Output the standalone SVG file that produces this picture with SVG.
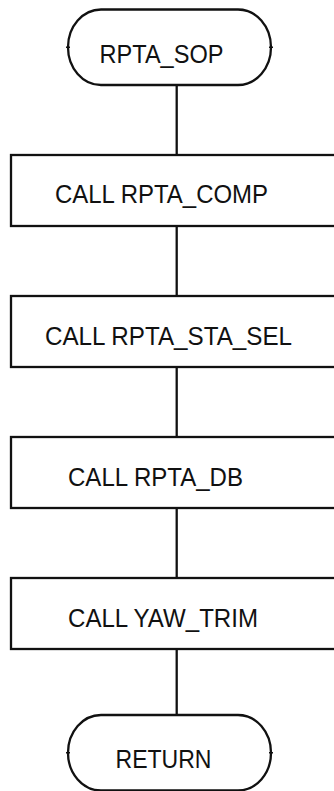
<svg xmlns="http://www.w3.org/2000/svg" width="334" height="791" viewBox="0 0 334 791">
<style>
.shape{fill:#fff;stroke:#111;stroke-width:2.3}
.tick{stroke:#111;stroke-width:1.5}
.conn{stroke:#111;stroke-width:2.3;fill:none}
.lbl{font-family:"Liberation Sans",Arial,sans-serif;font-size:25px;fill:#111}
</style>
<rect width="334" height="791" fill="#fff"/>
<g id="connectors">
<line class="conn" x1="176.7" y1="85" x2="176.7" y2="155"/>
<line class="conn" x1="176.7" y1="226" x2="176.7" y2="296"/>
<line class="conn" x1="176.7" y1="367" x2="176.7" y2="437"/>
<line class="conn" x1="176.7" y1="508" x2="176.7" y2="578"/>
<line class="conn" x1="176.7" y1="649" x2="176.7" y2="715"/>
</g>
<g id="start">
<path class="shape" d="M101,9.5 H238 A33,37.75 0 0 1 271,47.25 A33,37.75 0 0 1 238,85 H101 A33,37.75 0 0 1 68,47.25 A33,37.75 0 0 1 101,9.5 Z"/>
<line class="tick" x1="66" y1="47.25" x2="70" y2="47.25"/>
<line class="tick" x1="269" y1="47.25" x2="273" y2="47.25"/>
<text class="lbl" x="99.5" y="63" textLength="124" lengthAdjust="spacingAndGlyphs">RPTA_SOP</text>
</g>
<g id="comp">
<rect class="shape" x="11" y="155" width="331" height="71"/>
<text class="lbl" x="55" y="203.3" textLength="213" lengthAdjust="spacingAndGlyphs">CALL RPTA_COMP</text>
</g>
<g id="stasel">
<rect class="shape" x="11" y="296" width="331" height="71"/>
<text class="lbl" x="45" y="345" textLength="247" lengthAdjust="spacingAndGlyphs">CALL RPTA_STA_SEL</text>
</g>
<g id="db">
<rect class="shape" x="11" y="437" width="331" height="71"/>
<text class="lbl" x="68" y="485.7" textLength="175" lengthAdjust="spacingAndGlyphs">CALL RPTA_DB</text>
</g>
<g id="yawtrim">
<rect class="shape" x="11" y="578" width="331" height="71"/>
<text class="lbl" x="68" y="626.7" textLength="190" lengthAdjust="spacingAndGlyphs">CALL YAW_TRIM</text>
</g>
<g id="return">
<path class="shape" d="M101,715 H238 A33,37.75 0 0 1 271,752.75 A33,37.75 0 0 1 238,790.5 H101 A33,37.75 0 0 1 68,752.75 A33,37.75 0 0 1 101,715 Z"/>
<line class="tick" x1="66" y1="752.75" x2="70" y2="752.75"/>
<line class="tick" x1="269" y1="752.75" x2="273" y2="752.75"/>
<text class="lbl" x="115.5" y="768.3" textLength="96" lengthAdjust="spacingAndGlyphs">RETURN</text>
</g>
</svg>
